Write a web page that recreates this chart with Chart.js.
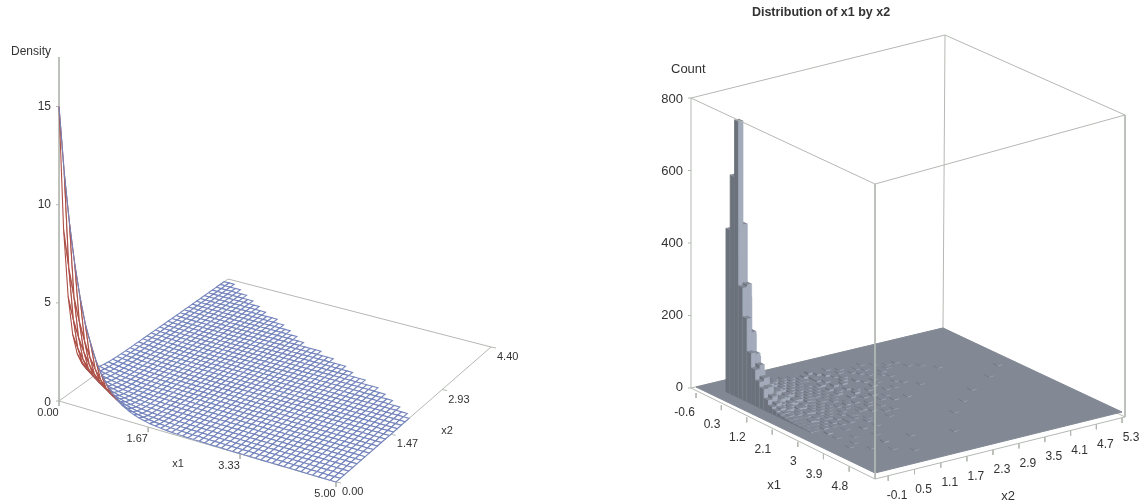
<!DOCTYPE html>
<html lang="en">
<head>
<meta charset="UTF-8">
<title>Density and distribution of x1 by x2</title>
<script src="https://cdn.jsdelivr.net/npm/chart.js"></script>
<style>
    body { margin: 0; background: #fff; overflow: hidden; }
    canvas { position: absolute; top: 0; }
    #densidade { left: 0; }
    #histograma { left: 571px; }
</style>
</head>
<body>
<canvas id="densidade" width="571" height="502"></canvas>
<canvas id="histograma" width="571" height="502"></canvas>

<script>
    // left surface: density along the two edges that meet at the peak
    const densityX1Step = 0.1;
    const densityX2Step = 0.11;
    const densityAlongX1 = [15, 11.7, 9.2, 7.2, 5.6, 4.3, 3.4, 2.6, 2.0, 1.55, 1.2, 0.92, 0.7, 0.54, 0.42, 0.33, 0.26, 0.2, 0.16, 0.13,
        0.1, 0.08, 0.07, 0.06, 0.05, 0.05, 0.04, 0.04, 0.03, 0.03, 0.03, 0.02, 0.02, 0.02, 0.02, 0.02, 0.01, 0.01, 0.01, 0.01,
        0.01, 0.01, 0.01, 0.01, 0.01, 0, 0, 0, 0, 0, 0];
    const densityAlongX2 = [15, 8.6, 5.0, 2.9, 1.75, 1.1, 0.72, 0.5, 0.36, 0.28, 0.22, 0.18, 0.15, 0.13, 0.12, 0.11, 0.1, 0.1, 0.09, 0.09,
        0.08, 0.08, 0.07, 0.07, 0.06, 0.06, 0.05, 0.05, 0.04, 0.04, 0.03, 0.03, 0.03, 0.02, 0.02, 0.02, 0.01, 0.01, 0.01, 0.01, 0];
    // how many cells the surface has along x2 in each x1 column (the stair edge)
    const rowsPerColumn = [39, 39, 38, 38, 37, 37, 36, 36, 35, 35, 34, 34, 33, 33, 33, 32, 32, 31, 31, 30, 30, 29, 29, 28, 28,
        28, 28, 27, 27, 27, 26, 26, 26, 25, 25, 24, 24, 24, 23, 23, 23, 22, 22, 21, 21, 20, 20, 19, 19, 18];

    const leftX1Ticks = [0, 1.67, 3.33, 5];
    const leftX1Labels = ['0.00', '1.67', '3.33', '5.00'];
    const leftX2Ticks = [0, 1.47, 2.93, 4.4];
    const leftX2Labels = ['0.00', '1.47', '2.93', '4.40'];
    const leftZTicks = [0, 5, 10, 15];

    // right histogram: counts per bin, rows are x2 bins, columns are x1 bins
    const binX1Width = 0.15;
    const binX2Width = 0.1;
    const firstBinX1 = 0;
    const firstBinX2 = -0.1;
    const countRows = [
        [452, 605, 762, 310, 230, 140, 100, 72, 58, 33, 20, 14, 10, 7, 5, 4, 3, 2, 2, 1],
        [280, 375, 475, 315, 190, 135, 110, 80, 60, 40, 26, 18, 12, 9, 6, 4, 3, 2, 1, 1],
        [170, 230, 270, 180, 115, 85, 62, 45, 32, 22, 14, 10, 7, 5, 4, 3, 2, 2, 1, 0],
        [105, 140, 165, 110, 72, 50, 36, 26, 18, 13, 6, 11, 4, 7, 3, 2, 5, 1, 0, 1],
        [62, 88, 100, 66, 44, 30, 22, 12, 19, 8, 10, 3, 6, 2, 4, 1, 3, 0, 2, 0],
        [40, 52, 60, 40, 26, 18, 9, 14, 5, 11, 3, 7, 2, 5, 1, 3, 0, 2, 0, 1],
        [24, 32, 38, 25, 12, 17, 6, 11, 3, 8, 2, 6, 1, 4, 0, 2, 1, 0, 3, 0],
        [15, 22, 18, 9, 14, 5, 10, 2, 7, 1, 5, 0, 3, 1, 2, 0, 2, 0, 0, 1],
        [14, 9, 12, 6, 10, 3, 8, 1, 6, 0, 3, 2, 0, 3, 0, 1, 0, 2, 0, 0],
        [6, 12, 5, 9, 2, 7, 1, 5, 0, 4, 1, 0, 2, 0, 1, 0, 0, 0, 2, 0],
        [9, 4, 8, 2, 6, 1, 4, 0, 3, 1, 0, 2, 0, 1, 0, 0, 2, 0, 0, 0],
        [3, 7, 2, 5, 1, 4, 0, 3, 1, 0, 2, 0, 1, 0, 0, 2, 0, 0, 1, 0],
        [6, 1, 4, 0, 3, 1, 2, 0, 2, 0, 1, 0, 0, 2, 0, 0, 0, 1, 0, 0],
        [1, 4, 0, 3, 1, 2, 0, 2, 0, 1, 0, 2, 0, 0, 1, 0, 0, 0, 0, 1],
        [3, 0, 2, 1, 2, 0, 2, 0, 1, 0, 1, 0, 0, 1, 0, 0, 1, 0, 0, 0],
        [0, 2, 1, 0, 1, 2, 0, 1, 0, 1, 0, 0, 1, 0, 0, 1, 0, 0, 0, 0]
    ];
    // lone bins out on the plate
    const sparseX1Bin = [1, 2, 0, 3, 5, 1, 4, 2, 7, 3, 0, 6, 2, 9, 4, 1, 8, 5, 3, 11, 2, 6, 13, 4, 1, 9, 7, 3, 15, 5,
        10, 2, 12, 6, 17, 8, 4, 14, 19, 11, 7, 21, 3, 16, 9, 23, 13, 5, 25, 18, 10, 27, 6, 22, 15, 29, 12, 31, 20, 8,
        15, 18, 12, 24, 28, 21, 33, 30, 6, 8, 10, 12, 14, 16, 18, 20, 22, 24, 7, 9, 11, 13, 15, 17, 19, 21, 5, 3, 26, 28];
    const sparseX2Bin = [16, 17, 18, 17, 16, 19, 18, 20, 16, 21, 22, 18, 23, 16, 22, 24, 19, 21, 25, 17, 27, 23, 16, 26, 29, 20, 24, 28, 17, 27,
        22, 31, 19, 29, 16, 26, 32, 21, 3, 25, 30, 6, 35, 19, 29, 2, 23, 36, 9, 18, 30, 1, 38, 12, 26, 4, 32, 7, 17, 40,
        45, 38, 50, 28, 14, 33, 10, 22, 20, 17, 19, 21, 18, 15, 20, 12, 9, 5, 26, 24, 27, 14, 23, 11, 9, 2, 30, 33, 3, 8];
    const sparseCount = [6, 4, 5, 3, 5, 4, 3, 5, 4, 2, 2, 5, 2, 4, 3, 2, 3, 4, 2, 3, 1, 3, 2, 2, 1, 3, 2, 1, 2, 1,
        2, 1, 2, 1, 2, 1, 1, 1, 2, 1, 1, 1, 1, 1, 1, 1, 1, 1, 1, 1, 1, 1, 1, 1, 1, 1, 1, 1, 1, 1,
        1, 1, 1, 1, 1, 1, 1, 1, 4, 3, 5, 3, 2, 3, 1, 2, 2, 1, 2, 3, 1, 3, 2, 2, 2, 3, 2, 1, 1, 2];

    const rightX1Ticks = [-0.6, 0.3, 1.2, 2.1, 3, 3.9, 4.8];
    const rightX2Ticks = [-0.1, 0.5, 1.1, 1.7, 2.3, 2.9, 3.5, 4.1, 4.7, 5.3];
    const rightZTicks = [0, 200, 400, 600, 800];

    // unit square -> floor quad on the page, keeps the perspective of the box
    function quadMap(p0, p1, p2, p3) {
        const dx1 = p1[0] - p2[0], dx2 = p3[0] - p2[0], sx = p0[0] - p1[0] + p2[0] - p3[0];
        const dy1 = p1[1] - p2[1], dy2 = p3[1] - p2[1], sy = p0[1] - p1[1] + p2[1] - p3[1];
        const den = dx1 * dy2 - dx2 * dy1;
        const g = (sx * dy2 - dx2 * sy) / den, h = (dx1 * sy - sx * dy1) / den;
        const a = p1[0] - p0[0] + g * p1[0], b = p3[0] - p0[0] + h * p3[0];
        const d = p1[1] - p0[1] + g * p1[1], e = p3[1] - p0[1] + h * p3[1];
        return (u, v) => {
            const w = g * u + h * v + 1;
            return { x: (a * u + b * v + p0[0]) / w, y: (d * u + e * v + p0[1]) / w };
        };
    }

    const leftFloor = quadMap([59, 401], [336, 482], [491, 347], [228, 279]);
    function leftPoint(x1, x2, z) {
        const p = leftFloor(x1 / 5, x2 / 4.4);
        return { x: p.x, y: p.y - z * 19.63 };
    }

    const rightFloor = quadMap([696, 387], [875, 473], [1122, 412], [943, 328]);
    function rightPoint(x1, x2, count) {
        const p = rightFloor((x1 + 0.6) / 6.3, (x2 + 0.4) / 5.7);
        return { x: p.x, y: p.y - count * 0.3625 };
    }

    const frameColor = '#b4b8b2';
    const plateColor = '#828894';

    function lineSet(points, color, width) {
        return { data: points, borderColor: color || frameColor, borderWidth: width || 1, pointRadius: 0, fill: false, tension: 0 };
    }

    function polySet(points, fillColor, edgeColor, edgeWidth) {
        return {
            data: points.concat([points[0]]), borderColor: edgeColor, borderWidth: edgeWidth,
            backgroundColor: fillColor, pointRadius: 0, fill: 'shape', tension: 0
        };
    }

    // ---------- left chart ----------
    function montaSuperficie() {
        const layers = [];
        layers.push(lineSet([{ x: 59, y: 57 }, leftPoint(0, 0, 0)]));
        layers.push(lineSet([leftPoint(0, 0, 0), leftPoint(5, 0, 0), leftPoint(5, 4.4, 0), leftPoint(0, 4.4, 0), leftPoint(0, 0, 0)]));

        leftZTicks.forEach(z => {
            const p = leftPoint(0, 0, z);
            layers.push(lineSet([{ x: p.x - 3, y: p.y }, p]));
        });
        leftX1Ticks.forEach(t => {
            const p = leftPoint(t, 0, 0);
            layers.push(lineSet([p, { x: p.x, y: p.y + 5 }]));
        });
        leftX2Ticks.forEach(t => {
            const p = leftPoint(5, t, 0);
            layers.push(lineSet([p, { x: p.x + 5, y: p.y + 1 }]));
        });

        const height = (i, j) => densityAlongX1[i] * densityAlongX2[j] / 15;
        const corner = (i, j) => leftPoint(i * densityX1Step, j * densityX2Step, height(i, j));

        // farthest cells first, the near ones paint over them
        for (let j = 39; j >= 0; j--) {
            for (let i = 0; i < 50; i++) {
                if (j >= rowsPerColumn[i]) continue;
                const q = [corner(i, j), corner(i + 1, j), corner(i + 1, j + 1), corner(i, j + 1)];
                let area = 0;
                q.forEach((p, k) => {
                    const n = q[(k + 1) % 4];
                    area += p.x * n.y - n.x * p.y;
                });
                // surface seen from below is red, from above blue
                layers.push(polySet(q, '#ffffff', area > 0 ? '#ad4f46' : '#7484bc', 1.1));
            }
        }
        // the near edge of the peak stays blue
        const nearEdge = [];
        for (let i = 0; i <= 12; i++) nearEdge.push(corner(i, 0));
        layers.push(lineSet(nearEdge, '#7484bc', 1.1));
        return layers;
    }

    const labelsEsquerda = [
        { text: 'Density', x: 11, y: 52, font: '12px', align: 'left' },
        { text: 'x1', x: 178, y: 464, font: '11px' },
        { text: 'x2', x: 447, y: 431, font: '11px' }
    ];
    leftZTicks.forEach(z => {
        labelsEsquerda.push({ text: String(z), x: 51, y: leftPoint(0, 0, z).y + (z === 0 ? 2 : 0), font: '12px', align: 'right' });
    });
    leftX1Ticks.forEach((t, i) => {
        const p = leftPoint(t, 0, 0);
        labelsEsquerda.push({ text: leftX1Labels[i], x: p.x - 11, y: p.y + 12, font: '11px' });
    });
    leftX2Ticks.forEach((t, i) => {
        const p = leftPoint(5, t, 0);
        labelsEsquerda.push({ text: leftX2Labels[i], x: p.x + 6, y: p.y + 10, font: '11px', align: 'left' });
    });

    // ---------- right chart ----------
    function montaHistograma() {
        const layers = [];
        const top = [[691, 98], [945, 35], [1125, 115], [875, 184]];
        const bottom = [[691, 388], [943, 328], [1125, 417], [875, 479]];
        const pt = a => ({ x: a[0], y: a[1] });

        // back of the box
        layers.push(lineSet([pt(bottom[0]), pt(top[0]), pt(top[1]), pt(top[2]), pt(bottom[2])]));
        layers.push(lineSet([pt(top[1]), pt(bottom[1])]));
        layers.push(lineSet([pt(bottom[0]), pt(bottom[1]), pt(bottom[2])]));

        layers.push(polySet([rightPoint(-0.6, -0.4, 0), rightPoint(5.7, -0.4, 0), rightPoint(5.7, 5.3, 0), rightPoint(-0.6, 5.3, 0)], plateColor, plateColor, 1));

        // collect the bins, then paint far to near
        const bins = [];
        countRows.forEach((row, j) => row.forEach((c, i) => { if (c > 0) bins.push({ i, j, c }); }));
        sparseCount.forEach((c, k) => bins.push({ i: sparseX1Bin[k], j: sparseX2Bin[k], c }));
        bins.sort((a, b) => a.i - b.i || b.j - a.j);

        bins.forEach(b => {
            const x0 = firstBinX1 + b.i * binX1Width, x1 = x0 + binX1Width;
            const y0 = firstBinX2 + b.j * binX2Width, y1 = y0 + binX2Width;
            layers.push(polySet([rightPoint(x0, y0, 0), rightPoint(x1, y0, 0), rightPoint(x1, y0, b.c), rightPoint(x0, y0, b.c)], '#6c727c', '#6c727c', 0.4));
            layers.push(polySet([rightPoint(x1, y0, 0), rightPoint(x1, y1, 0), rightPoint(x1, y1, b.c), rightPoint(x1, y0, b.c)], '#a4acbc', '#a4acbc', 0.4));
            layers.push(polySet([rightPoint(x0, y0, b.c), rightPoint(x1, y0, b.c), rightPoint(x1, y1, b.c), rightPoint(x0, y1, b.c)], plateColor, plateColor, 0));
        });

        // front of the box and the axes
        layers.push(lineSet([pt(top[3]), pt(bottom[3])]));
        layers.push(lineSet([pt(top[0]), pt(top[3]), pt(top[2])]));
        layers.push(lineSet([pt(bottom[0]), pt(bottom[3]), pt(bottom[2])]));

        rightZTicks.forEach(c => {
            const y = 388 - c * 0.3625;
            layers.push(lineSet([{ x: 688, y }, { x: 691, y }]));
        });
        rightX1Ticks.forEach(t => {
            const p = rightPoint(t, -0.4, 0);
            layers.push(lineSet([{ x: p.x, y: p.y + 6 }, { x: p.x, y: p.y + 11 }]));
        });
        rightX2Ticks.forEach(t => {
            const p = rightPoint(5.7, t, 0);
            layers.push(lineSet([{ x: p.x, y: p.y + 6 }, { x: p.x, y: p.y + 11 }]));
        });
        return layers;
    }

    const labelsDireita = [
        { text: 'Distribution of x1 by x2', x: 821, y: 13, font: 'bold 12.5px' },
        { text: 'Count', x: 671, y: 69, font: '13px', align: 'left' },
        { text: 'x1', x: 774, y: 485, font: '13px' },
        { text: 'x2', x: 1008, y: 496, font: '13px' }
    ];
    rightZTicks.forEach(c => {
        labelsDireita.push({ text: String(c), x: 683, y: 387 - c * 0.36, font: '13px', align: 'right' });
    });
    rightX1Ticks.forEach(t => {
        const p = rightPoint(t, -0.4, 0);
        labelsDireita.push({ text: String(t), x: p.x - 1, y: p.y + 26, font: '12px', align: 'right' });
    });
    rightX2Ticks.forEach(t => {
        const p = rightPoint(5.7, t, 0);
        labelsDireita.push({ text: String(t), x: p.x + 9, y: p.y + 26, font: '12px' });
    });

    // text at box positions, the 3D axes are not real chart axes
    const textoEixos = {
        id: 'textoEixos',
        afterDraw(chart, args, opts) {
            const { ctx, scales } = chart;
            ctx.save();
            ctx.fillStyle = '#333333';
            ctx.textBaseline = 'middle';
            opts.items.forEach(t => {
                ctx.font = t.font + ' "Liberation Sans", Arial, sans-serif';
                ctx.textAlign = t.align || 'center';
                ctx.fillText(t.text, scales.x.getPixelForValue(t.x), scales.y.getPixelForValue(t.y));
            });
            ctx.restore();
        }
    };

    function montaGrafico(id, layers, xMin, xMax, items) {
        new Chart(document.getElementById(id), {
            type: 'line',
            // chart.js paints the first dataset last
            data: { datasets: layers.reverse() },
            options: {
                responsive: false,
                animation: false,
                events: [],
                layout: { padding: 0 },
                scales: {
                    x: { type: 'linear', min: xMin, max: xMax, display: false },
                    y: { type: 'linear', min: 0, max: 502, reverse: true, display: false }
                },
                plugins: {
                    legend: { display: false },
                    tooltip: { enabled: false },
                    textoEixos: { items }
                }
            },
            plugins: [textoEixos]
        });
    }

    montaGrafico('densidade', montaSuperficie(), 0, 571, labelsEsquerda);
    montaGrafico('histograma', montaHistograma(), 571, 1142, labelsDireita);
</script>
</body>
</html>
